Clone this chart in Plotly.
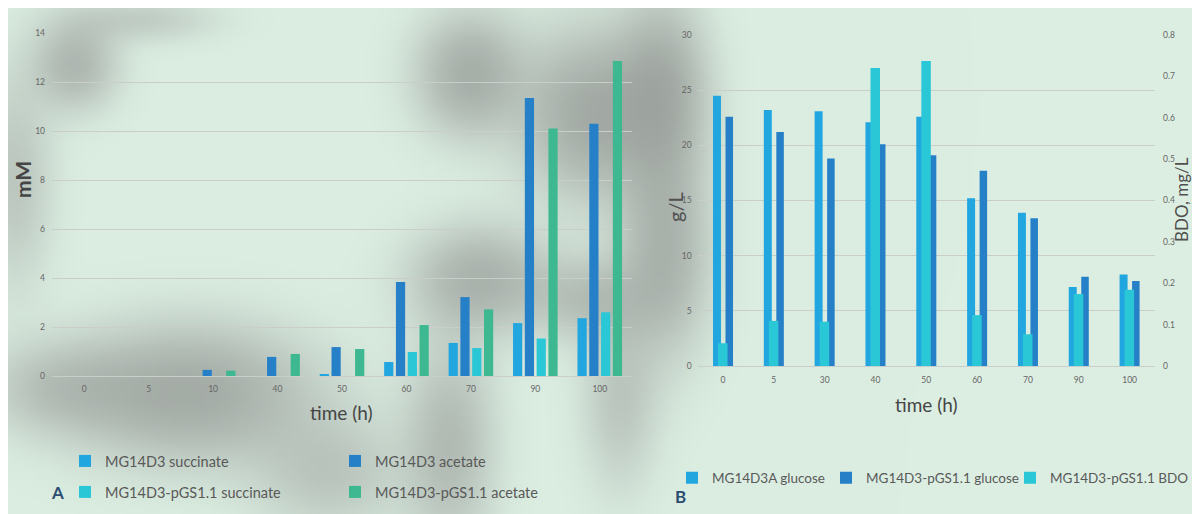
import base64
import struct
import zlib

import numpy as np
import plotly.graph_objects as go

# ---------------- data ----------------
# Panel A (mM)
a_hours = ["0", "5", "10", "40", "50", "60", "70", "90", "100"]
a_mg14d3_succinate = [0, 0, 0, 0, 0.07, 0.57, 1.35, 2.16, 2.36]
a_mg14d3_acetate = [0, 0, 0.25, 0.78, 1.18, 3.84, 3.22, 11.35, 10.3]
a_pgs_succinate = [0, 0, 0, 0, 0, 0.98, 1.14, 1.53, 2.6]
a_pgs_acetate = [0, 0, 0.22, 0.9, 1.1, 2.08, 2.72, 10.1, 12.86]

# Panel B (g/L and BDO mg/L)
b_hours = ["0", "5", "30", "40", "50", "60", "70", "90", "100"]
b_mg14d3a_glucose = [24.5, 23.2, 23.1, 22.1, 22.6, 15.2, 13.9, 7.15, 8.3]
b_pgs_glucose = [22.6, 21.2, 18.8, 20.1, 19.1, 17.7, 13.4, 8.1, 7.7]
b_pgs_bdo = [0.055, 0.109, 0.107, 0.72, 0.737, 0.123, 0.077, 0.174, 0.184]

# ---------------- style ----------------
C1 = "#22A6E0"
C2 = "#2680C8"
C3 = "#2AC8D6"
C4 = "#3DB891"
FONT = "Lato"
TICK_FONT = dict(family=FONT, size=8.5, color="#666666")
GRID = "#c9ceca"

# The page body keeps its default 8px margin, so the figure is drawn
# 8px in from the top-left corner of the 1200x514 window.
OFF = 8
SW, SH = 1200, 514
W, H = SW - OFF, SH - OFF


def px_x(v):
    """screen x pixel -> paper fraction"""
    return (v - OFF) / W


def px_y(v):
    """screen y pixel (from top) -> paper fraction"""
    return (SH - v) / H


# ---------------- blurred background (decorative) ----------------
mint = np.array([220, 238, 226], dtype=float)
gray = np.array([138, 140, 138], dtype=float)
blobs = [
    (470, 75, 35, 40, 1.0),
    (590, 115, 45, 55, 1.1),
    (662, 90, 30, 60, 1.0),
    (665, 250, 30, 70, 0.9),
    (480, 280, 45, 35, 0.9),
    (590, 300, 40, 28, 0.6),
    (75, 65, 28, 30, 0.8),
    (15, 180, 25, 70, 0.5),
    (140, 20, 50, 15, 0.4),
    (190, 395, 80, 45, 1.1),
    (60, 390, 50, 30, 0.5),
    (450, 445, 30, 70, 0.7),
    (330, 475, 50, 40, 0.5),
    (620, 400, 25, 60, 0.5),
]
sc = 4
gw, gh = W // sc, int(np.ceil(H / sc))
xs = OFF + (np.arange(gw) + 0.5) * sc
ys = OFF + (np.arange(gh) + 0.5) * sc
X, Y = np.meshgrid(xs, ys)
acc = np.zeros_like(X)
for cx, cy, sx, sy, s in blobs:
    acc += s * np.exp(-((X - cx) ** 2 / (2 * sx ** 2) + (Y - cy) ** 2 / (2 * sy ** 2)))
alpha = np.clip(1 - np.exp(-acc), 0, 0.85)[..., None]
img = (mint * (1 - alpha) + gray * alpha).clip(0, 255).astype(np.uint8)


def png_uri(rgb):
    h, w, _ = rgb.shape
    raw = b"".join(b"\x00" + rgb[r].tobytes() for r in range(h))

    def chunk(tag, data):
        return (struct.pack(">I", len(data)) + tag + data
                + struct.pack(">I", zlib.crc32(tag + data) & 0xFFFFFFFF))

    png = (b"\x89PNG\r\n\x1a\n"
           + chunk(b"IHDR", struct.pack(">IIBBBBB", w, h, 8, 2, 0, 0, 0))
           + chunk(b"IDAT", zlib.compress(raw, 9))
           + chunk(b"IEND", b""))
    return "data:image/png;base64," + base64.b64encode(png).decode()


# ---------------- figure ----------------
fig = go.Figure()

slot, bw = 0.183, 0.143
a_series = [
    ("MG14D3 succinate", a_mg14d3_succinate, C1, "legend"),
    ("MG14D3 acetate", a_mg14d3_acetate, C2, "legend"),
    ("MG14D3-pGS1.1 succinate", a_pgs_succinate, C3, "legend2"),
    ("MG14D3-pGS1.1 acetate", a_pgs_acetate, C4, "legend2"),
]
for i, (name, vals, col, leg) in enumerate(a_series):
    center = (i - 1.5) * slot
    fig.add_trace(go.Bar(
        x=a_hours, y=vals, name=name, marker=dict(color=col, line=dict(width=0)),
        offset=center - bw / 2, width=bw, xaxis="x", yaxis="y", legend=leg,
    ))

fig.add_trace(go.Bar(
    x=b_hours, y=b_mg14d3a_glucose, name="MG14D3A glucose",
    marker=dict(color=C1, line=dict(width=0)), offset=-0.197, width=0.157,
    xaxis="x2", yaxis="y2", legend="legend3",
))
fig.add_trace(go.Bar(
    x=b_hours, y=b_pgs_glucose, name="MG14D3-pGS1.1 glucose",
    marker=dict(color=C2, line=dict(width=0)), offset=0.049, width=0.148,
    xaxis="x2", yaxis="y2", legend="legend4",
))
fig.add_trace(go.Bar(
    x=b_hours, y=b_pgs_bdo, name="MG14D3-pGS1.1 BDO",
    marker=dict(color=C3, line=dict(width=0)), offset=-0.098, width=0.187,
    xaxis="x2", yaxis="y3", legend="legend5",
))

common_x = dict(type="category", showgrid=False, showline=False, zeroline=False,
                ticks="", tickfont=TICK_FONT, range=[-0.5, 8.5], automargin=False)
common_y = dict(showline=False, ticks="", tickfont=TICK_FONT, gridcolor=GRID,
                gridwidth=1, zeroline=True, zerolinecolor=GRID, zerolinewidth=1,
                automargin=False)

leg_common = dict(orientation="h", xanchor="left", yanchor="middle",
                  bgcolor="rgba(0,0,0,0)", borderwidth=0, itemclick=False,
                  font=dict(family=FONT, size=14.5, color="#595959"),
                  traceorder="normal")
leg_a = dict(leg_common, entrywidth=225, entrywidthmode="pixels")
leg_b = dict(leg_common, font=dict(family=FONT, size=13.5, color="#595959"))


def note(text, x, y, size, color, angle=0):
    return dict(text=text, x=px_x(x), y=px_y(y), xref="paper", yref="paper",
                xanchor="center", yanchor="middle", showarrow=False,
                textangle=angle, font=dict(family=FONT, size=size, color=color))


fig.update_layout(
    width=W, height=H, margin=dict(l=0, r=0, t=0, b=0, autoexpand=False),
    paper_bgcolor="#dceee2", plot_bgcolor="rgba(0,0,0,0)",
    barmode="overlay", showlegend=True,
    font=dict(family=FONT, color="#595959"),
    xaxis=dict(common_x, domain=[px_x(52), px_x(632)], anchor="y",
               ticklabelstandoff=6),
    yaxis=dict(common_y, domain=[px_y(376), px_y(33)], anchor="x",
               range=[0, 14], dtick=2, ticklabelstandoff=6),
    xaxis2=dict(common_x, domain=[px_x(697.6), px_x(1155)], anchor="y2",
                ticklabelstandoff=7),
    yaxis2=dict(common_y, domain=[px_y(366), px_y(35)], anchor="x2",
                range=[0, 30], dtick=5, ticklabelstandoff=5),
    yaxis3=dict(overlaying="y2", side="right", anchor="x2", range=[0, 0.8],
                dtick=0.1, showgrid=False, zeroline=False, showline=False,
                ticks="", tickfont=TICK_FONT, ticklabelstandoff=7, automargin=False),
    legend=dict(leg_a, x=px_x(65), y=px_y(461)),
    legend2=dict(leg_a, x=px_x(65), y=px_y(492)),
    legend3=dict(leg_b, x=px_x(672), y=px_y(478)),
    legend4=dict(leg_b, x=px_x(826), y=px_y(478)),
    legend5=dict(leg_b, x=px_x(1010), y=px_y(478)),
    images=[dict(source=png_uri(img), xref="paper", yref="paper", x=0, y=1,
                 sizex=1, sizey=1, xanchor="left", yanchor="top",
                 sizing="stretch", layer="below")],
    annotations=[
        note("<b>mM</b>", 22, 180, 21, "#454545", -90),
        note("time (h)", 341, 412, 19, "#454545"),
        note("time (h)", 926, 404, 19, "#454545"),
        note("g/L", 675, 207, 20, "#505050", -90),
        note("BDO, mg/L", 1181, 200, 17, "#505050", -90),
        note("<b>A</b>", 57, 492, 17, "#2b4d72"),
        note("<b>B</b>", 680, 496, 17, "#2b4d72"),
    ],
)

fig.write_html("out.html")
